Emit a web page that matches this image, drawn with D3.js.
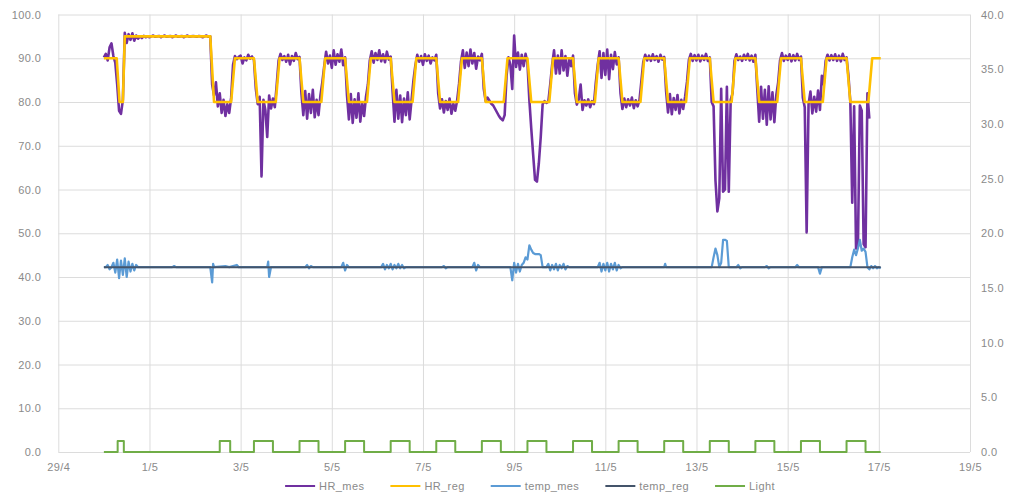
<!DOCTYPE html>
<html>
<head>
<meta charset="utf-8">
<script src="https://cdn.jsdelivr.net/npm/d3@7"></script>
<style>
  html, body { margin: 0; padding: 0; background: #fff; }
  svg { display: block; font-family: "Liberation Sans", Arial, sans-serif; }
</style>
</head>
<body>
<div id="chart"></div>
<script>
/*global d3 */
var parseTime = d3.utcParse("%d/%m %H:%M");

// Legend / series names and colours
var seriesNames = ["HR_mes", "HR_reg", "temp_mes", "temp_reg", "Light"];
var seriesColors = ["#7030A0", "#FFC000", "#5B9BD5", "#44546A", "#70AD47"];

// Axis ticks
var dateTicks = ["29/04 00:00", "01/05 00:00", "03/05 00:00", "05/05 00:00", "07/05 00:00", "09/05 00:00",
                 "11/05 00:00", "13/05 00:00", "15/05 00:00", "17/05 00:00", "19/05 00:00"];
var leftTicks = [0, 10, 20, 30, 40, 50, 60, 70, 80, 90, 100];
var rightTicks = [0, 5, 10, 15, 20, 25, 30, 35, 40];

// HR_mes : hourly readings starting 30/04 00:00 (one line per day)
var hrMesStart = "30/04 00:00";
var hrMes = [
  90.2, 91, 89.5, 92.5, 93.4, 90.5, 89, 84, 78, 77.3, 80.5, 95.8, 93.5, 95.5, 94.2, 95.7, 94, 95.2, 94.5, 95, 94.6, 95.1, 94.8, 95,
  94.8, 95, 95.2, 94.9, 95, 95.1, 94.8, 95, 95.2, 94.9, 95, 95.1, 94.8, 95, 95.2, 94.9, 95, 95.1, 94.8, 95, 95.2, 94.9, 95, 95.1,
  95, 94.9, 95.1, 95, 94.8, 95, 95.2, 94.9, 95, 84, 81.5, 84.5, 79, 82, 77.5, 80.5, 76.8, 79.5, 77.5, 81, 88.5, 90.5, 89.8, 90.3,
  90.6, 88.8, 90.2, 89.5, 90.8, 89.9, 90.4, 89.6, 83, 79.5, 81.2, 63, 80.5, 78.2, 72, 81.5, 78.5, 80.8, 78.8, 84, 89.5, 91, 89.6, 90.5,
  89.2, 90.8, 88.6, 90.5, 89.4, 91.2, 89.8, 90.3, 82, 77, 82.5, 76.2, 81.8, 77.5, 82.8, 76.5, 80.5, 77, 81.5, 84.5, 88.2, 91.5, 88.8, 90.6,
  87.8, 91.8, 88.5, 90.9, 89.2, 92, 88.4, 90.2, 81.5, 76, 81.8, 75.2, 80.6, 76.4, 82, 75.5, 79.8, 76.8, 81.2, 84, 89.5, 91.6, 89, 91.2,
  89.6, 91.8, 89.3, 90.9, 89.1, 91.5, 89.7, 90.4, 82.5, 75.5, 82.8, 76.2, 81.5, 75.4, 80.8, 77, 82.2, 76, 80.5, 85, 88.4, 90.8, 89.2, 90.5,
  88.5, 90.9, 89.4, 90.6, 88.8, 90.2, 89.5, 90.8, 82, 78.5, 80.6, 77.6, 80.2, 78.2, 80.8, 77.3, 79.6, 78, 80.4, 84.2, 89.2, 91.8, 87.8, 91.3,
  88.2, 92, 88.8, 91.2, 87.6, 90.4, 89.5, 91, 83, 80.2, 81, 80.3, 79.6, 79.2, 78.4, 77.6, 76.8, 76.2, 75.8, 77, 86, 90.2, 88.5, 83,
  95.2, 88, 91.3, 87.4, 90.8, 88.2, 91, 89, 80.5, 74, 68, 62.2, 61.8, 66, 72, 79.5, 80.2, 79.8, 80.1, 84, 88.5, 91.8, 86.5, 90.6,
  86.5, 91.8, 87.2, 90.5, 86, 89.8, 88.2, 90.6, 82, 79.4, 80.6, 84, 78.2, 80.4, 79.2, 80.6, 78.8, 80.2, 79.5, 84.5, 88.5, 91.6, 85.5, 91.2,
  86.2, 92, 85.2, 90.8, 87.5, 91.4, 88.6, 90.2, 82, 78.4, 80.8, 78.8, 80.6, 79.2, 81, 78.6, 80.4, 79, 80.5, 84.8, 89.2, 90.8, 89.5, 90.6,
  89.4, 90.9, 89.6, 90.5, 89.2, 90.8, 89.7, 90.3, 82.5, 77.6, 81.8, 77.2, 80.9, 78.2, 81.6, 77.4, 80.5, 78.4, 81.2, 84.6, 89.6, 91, 89.4, 90.7,
  89.5, 90.8, 89.3, 90.6, 89.6, 91, 89.4, 90.2, 80, 79, 62, 55, 58, 83, 59.5, 60, 83.5, 59.5, 80.5, 82, 89.4, 90.9, 89.6, 90.4,
  89.4, 90.8, 89.7, 91, 89.5, 90.6, 89.2, 90.8, 83, 75.5, 83.5, 76.2, 82.8, 74.8, 83.6, 76, 82.2, 75.4, 81.5, 84.5, 89.5, 91.2, 89.4, 90.6,
  89.6, 90.9, 89.3, 90.7, 89.5, 91, 89.6, 90.4, 81, 78.8, 50.2, 79.5, 82.4, 77.4, 81.2, 77.8, 82.6, 78.2, 86, 84, 89.4, 90.8, 89.5, 90.7,
  89.6, 90.9, 89.4, 90.6, 89.3, 91, 89.6, 90.2, 86, 80, 57, 79, 46.5, 47, 79.2, 78, 47.5, 46.8, 82, 76.2
];

// HR_reg : set point breakpoints
var hrReg = [
  ["30/04 00:00", 90], ["30/04 06:45", 90], ["30/04 08:15", 80], ["30/04 10:00", 80], ["30/04 11:00", 95],
  ["02/05 08:00", 95], ["02/05 10:00", 80], ["02/05 19:00", 80], ["02/05 21:00", 90],
  ["03/05 07:00", 90], ["03/05 09:00", 80], ["03/05 18:30", 80], ["03/05 20:30", 90],
  ["04/05 07:00", 90], ["04/05 09:00", 80], ["04/05 18:30", 80], ["04/05 20:30", 90],
  ["05/05 07:00", 90], ["05/05 09:00", 80], ["05/05 18:30", 80], ["05/05 20:30", 90],
  ["06/05 07:00", 90], ["06/05 09:00", 80], ["06/05 18:30", 80], ["06/05 20:30", 90],
  ["07/05 07:00", 90], ["07/05 09:00", 80], ["07/05 18:30", 80], ["07/05 20:30", 90],
  ["08/05 07:00", 90], ["08/05 09:00", 80], ["08/05 18:30", 80], ["08/05 20:30", 90],
  ["09/05 07:00", 90], ["09/05 09:00", 80], ["09/05 18:30", 80], ["09/05 20:30", 90],
  ["10/05 07:00", 90], ["10/05 09:00", 80], ["10/05 18:30", 80], ["10/05 20:30", 90],
  ["11/05 07:00", 90], ["11/05 09:00", 80], ["11/05 18:30", 80], ["11/05 20:30", 90],
  ["12/05 07:00", 90], ["12/05 09:00", 80], ["12/05 18:30", 80], ["12/05 20:30", 90],
  ["13/05 07:00", 90], ["13/05 09:00", 80], ["13/05 18:30", 80], ["13/05 20:30", 90],
  ["14/05 07:00", 90], ["14/05 09:00", 80], ["14/05 18:30", 80], ["14/05 20:30", 90],
  ["15/05 07:00", 90], ["15/05 09:00", 80], ["15/05 18:30", 80], ["15/05 20:30", 90],
  ["16/05 07:00", 90], ["16/05 09:00", 80], ["16/05 18:30", 80], ["16/05 20:30", 90],
  ["17/05 01:00", 90]
];

// temp_mes : readings (right axis, °C)
var tempMes = [
  ["30/04 00:00", 16.9], ["30/04 01:00", 16.9], ["30/04 02:00", 17.1], ["30/04 03:00", 16.7], ["30/04 04:00", 16.9],
  ["30/04 05:00", 17.3], ["30/04 06:00", 16.4], ["30/04 07:00", 17.6], ["30/04 08:00", 15.9], ["30/04 09:00", 17.5],
  ["30/04 10:00", 16.2], ["30/04 11:00", 17.7], ["30/04 12:00", 16.0], ["30/04 13:00", 17.4], ["30/04 14:00", 16.5],
  ["30/04 15:00", 17.2], ["30/04 16:00", 16.6], ["30/04 17:00", 17.1], ["30/04 18:00", 16.9],
  ["01/05 12:00", 16.9], ["01/05 13:00", 17.0], ["01/05 14:00", 16.9],
  ["02/05 08:00", 16.9], ["02/05 09:00", 15.5], ["02/05 09:30", 17.2], ["02/05 10:00", 16.9],
  ["02/05 16:00", 17.0], ["02/05 18:00", 16.9], ["02/05 22:00", 17.1], ["02/05 23:00", 16.9],
  ["03/05 14:00", 16.9], ["03/05 14:30", 17.4], ["03/05 15:00", 16.0], ["03/05 16:00", 16.9],
  ["04/05 10:00", 16.9], ["04/05 11:00", 17.1], ["04/05 12:00", 16.8], ["04/05 13:00", 17.0], ["04/05 14:00", 16.9],
  ["05/05 05:00", 16.9], ["05/05 06:00", 17.3], ["05/05 07:00", 16.6], ["05/05 08:00", 17.1], ["05/05 09:00", 16.9],
  ["06/05 02:00", 16.9], ["06/05 03:00", 17.2], ["06/05 04:00", 16.7], ["06/05 05:00", 17.1], ["06/05 06:00", 16.8],
  ["06/05 07:00", 17.2], ["06/05 08:00", 16.7], ["06/05 09:00", 17.1], ["06/05 10:00", 16.8], ["06/05 11:00", 17.2],
  ["06/05 12:00", 16.8], ["06/05 13:00", 17.1], ["06/05 14:00", 16.8], ["06/05 15:00", 16.9],
  ["07/05 10:00", 16.9], ["07/05 11:00", 17.0], ["07/05 12:00", 16.8], ["07/05 13:00", 16.9],
  ["08/05 02:00", 16.9], ["08/05 03:00", 17.3], ["08/05 04:00", 16.6], ["08/05 05:00", 17.1], ["08/05 06:00", 16.9],
  ["08/05 22:00", 16.9], ["08/05 23:00", 15.7], ["09/05 00:00", 17.3], ["09/05 01:00", 16.4], ["09/05 02:00", 17.2],
  ["09/05 03:00", 16.5], ["09/05 04:00", 17.1], ["09/05 05:00", 17.3], ["09/05 06:00", 17.8], ["09/05 07:00", 17.6],
  ["09/05 08:00", 18.9], ["09/05 09:00", 18.5], ["09/05 10:00", 18.2], ["09/05 11:00", 18.1], ["09/05 12:00", 18.1],
  ["09/05 13:00", 18.1], ["09/05 14:00", 18.0], ["09/05 15:00", 16.9],
  ["09/05 17:00", 16.9], ["09/05 18:00", 17.2], ["09/05 19:00", 16.6], ["09/05 20:00", 17.1], ["09/05 21:00", 16.7],
  ["09/05 22:00", 17.2], ["09/05 23:00", 16.6], ["10/05 00:00", 17.1], ["10/05 01:00", 16.8], ["10/05 02:00", 17.2],
  ["10/05 03:00", 16.7], ["10/05 04:00", 17.0], ["10/05 05:00", 16.9],
  ["10/05 20:00", 16.9], ["10/05 21:00", 17.3], ["10/05 22:00", 16.5], ["10/05 23:00", 17.2], ["11/05 00:00", 16.6],
  ["11/05 01:00", 17.3], ["11/05 02:00", 16.5], ["11/05 03:00", 17.2], ["11/05 04:00", 16.7], ["11/05 05:00", 17.3],
  ["11/05 06:00", 16.6], ["11/05 07:00", 17.1], ["11/05 08:00", 16.8], ["11/05 09:00", 16.9],
  ["12/05 07:00", 16.9], ["12/05 07:30", 17.2], ["12/05 08:00", 16.9],
  ["13/05 08:00", 16.9], ["13/05 09:00", 17.8], ["13/05 10:00", 18.6], ["13/05 11:00", 18.0], ["13/05 12:00", 16.9],
  ["13/05 13:00", 17.3], ["13/05 14:00", 19.4], ["13/05 15:00", 19.4], ["13/05 16:00", 19.3], ["13/05 17:00", 16.9],
  ["13/05 21:00", 16.9], ["13/05 22:00", 17.1], ["13/05 23:00", 16.8], ["14/05 00:00", 16.9],
  ["14/05 12:00", 16.9], ["14/05 13:00", 17.0], ["14/05 14:00", 16.8], ["14/05 15:00", 16.9],
  ["15/05 04:00", 16.9], ["15/05 05:00", 17.1], ["15/05 06:00", 16.9],
  ["15/05 16:00", 16.9], ["15/05 17:00", 16.3], ["15/05 18:00", 16.9],
  ["16/05 09:00", 16.9], ["16/05 10:00", 17.8], ["16/05 11:00", 18.5], ["16/05 12:00", 18.0], ["16/05 13:00", 18.6],
  ["16/05 14:00", 19.4], ["16/05 15:00", 18.4], ["16/05 16:00", 18.6], ["16/05 17:00", 18.3], ["16/05 18:00", 16.9],
  ["16/05 19:00", 16.7], ["16/05 20:00", 17.0], ["16/05 21:00", 16.8], ["16/05 22:00", 17.0], ["16/05 23:00", 16.8],
  ["17/05 00:00", 16.9], ["17/05 01:00", 16.8]
];

// temp_reg : constant set point (right axis)
var tempReg = [["30/04 00:00", 16.9], ["17/05 01:00", 16.9]];

// Light : on / off times (right axis, level 1)
var lightStart = "30/04 00:00", lightEnd = "17/05 01:00", lightLevel = 1;
var lightOn = ["30/04 07:15", "02/05 13:00", "03/05 07:00", "04/05 07:00", "05/05 07:00", "06/05 07:00",
               "07/05 07:00", "08/05 07:00", "09/05 07:00", "10/05 07:00", "11/05 07:00", "12/05 07:00",
               "13/05 07:00", "14/05 07:00", "15/05 07:00", "16/05 07:00"];
var lightOff = ["30/04 10:30", "02/05 18:30", "03/05 17:00", "04/05 17:00", "05/05 17:00", "06/05 17:00",
                "07/05 17:00", "08/05 17:00", "09/05 17:00", "10/05 17:00", "11/05 17:00", "12/05 17:00",
                "13/05 17:00", "14/05 17:00", "15/05 17:00", "16/05 17:00"];

function createChart(container) {
    "use strict";

    var width = 1018,
        height = 494,
        plot = {left: 58.3, right: 970, top: 14.5, bottom: 452},
        labelColor = "#8a8a8a",
        gridColor = "#dcdcdc",

        svg = container.append("svg")
            .attr("width", width)
            .attr("height", height),

        x = d3.scaleUtc()
            .domain([parseTime(dateTicks[0]), parseTime(dateTicks[dateTicks.length - 1])])
            .range([plot.left, plot.right]),
        yLeft = d3.scaleLinear().domain([0, 100]).range([plot.bottom, plot.top]),
        yRight = d3.scaleLinear().domain([0, 40]).range([plot.bottom, plot.top]);

    // Grid lines
    svg.append("g")
        .attr("transform", "translate(" + plot.left + ",0)")
        .call(d3.axisLeft(yLeft).tickValues(leftTicks).tickSize(-(plot.right - plot.left)).tickFormat(""))
        .call(function (g) { g.select(".domain").remove(); })
        .selectAll("line").attr("stroke", gridColor);

    svg.append("g")
        .attr("transform", "translate(0," + plot.bottom + ")")
        .call(d3.axisBottom(x).tickValues(dateTicks.map(parseTime)).tickSize(-(plot.bottom - plot.top)).tickFormat(""))
        .call(function (g) { g.select(".domain").remove(); })
        .selectAll("line").attr("stroke", gridColor);

    // Tick labels
    var left = svg.append("g")
        .attr("transform", "translate(" + plot.left + ",0)")
        .call(d3.axisLeft(yLeft).tickValues(leftTicks).tickSize(0).tickPadding(17).tickFormat(d3.format(".1f")));
    var right = svg.append("g")
        .attr("transform", "translate(" + plot.right + ",0)")
        .call(d3.axisRight(yRight).tickValues(rightTicks).tickSize(0).tickPadding(11).tickFormat(d3.format(".1f")));
    var bottom = svg.append("g")
        .attr("transform", "translate(0," + plot.bottom + ")")
        .call(d3.axisBottom(x).tickValues(dateTicks.map(parseTime)).tickSize(0).tickPadding(11)
            .tickFormat(d3.utcFormat("%-d/%-m")));

    [left, right, bottom].forEach(function (g) {
        g.select(".domain").remove();
        g.selectAll("text")
            .attr("fill", labelColor)
            .style("font-size", "11px")
            .style("letter-spacing", "0.4px");
    });

    // Series
    var lineLeft = d3.line()
            .x(function (d) { return x(d[0]); })
            .y(function (d) { return yLeft(d[1]); }),
        lineRight = d3.line()
            .x(function (d) { return x(d[0]); })
            .y(function (d) { return yRight(d[1]); });

    var t0 = parseTime(hrMesStart),
        hrMesData = hrMes.map(function (v, i) { return [d3.utcHour.offset(t0, i), v]; }),
        hrRegData = hrReg.map(function (d) { return [parseTime(d[0]), d[1]]; }),
        tempMesData = tempMes.map(function (d) { return [parseTime(d[0]), d[1]]; }),
        tempRegData = tempReg.map(function (d) { return [parseTime(d[0]), d[1]]; }),
        lightData = [[parseTime(lightStart), 0]];

    lightOn.forEach(function (on, i) {
        lightData.push([parseTime(on), 0], [parseTime(on), lightLevel],
            [parseTime(lightOff[i]), lightLevel], [parseTime(lightOff[i]), 0]);
    });
    lightData.push([parseTime(lightEnd), 0]);

    var series = [
        {data: hrMesData, line: lineLeft, width: 2.6},
        {data: hrRegData, line: lineLeft, width: 2.6},
        {data: tempMesData, line: lineRight, width: 2.2},
        {data: tempRegData, line: lineRight, width: 2},
        {data: lightData, line: lineRight, width: 2}
    ];

    series.forEach(function (s, i) {
        svg.append("path")
            .datum(s.data)
            .attr("fill", "none")
            .attr("stroke", seriesColors[i])
            .attr("stroke-width", s.width)
            .attr("stroke-linejoin", "round")
            .attr("d", s.line);
    });

    // Legend
    var legend = svg.append("g").attr("transform", "translate(0,486)"),
        items = legend.selectAll("g")
            .data(seriesNames)
            .enter().append("g");

    items.append("line")
        .attr("x1", 0).attr("x2", 30)
        .attr("stroke", function (d, i) { return seriesColors[i]; })
        .attr("stroke-width", 2);
    items.append("text")
        .attr("x", 34)
        .attr("dy", "0.35em")
        .attr("fill", labelColor)
        .style("font-size", "11px")
        .style("letter-spacing", "0.4px")
        .text(function (d) { return d; });

    var widths = [], total = 0, gap = 26;
    items.each(function () {
        var w = this.getBBox().width;
        widths.push(w);
        total += w;
    });
    total += gap * (seriesNames.length - 1);
    var pos = 530 - total / 2;
    items.attr("transform", function (d, i) {
        var p = pos;
        pos += widths[i] + gap;
        return "translate(" + p + ",0)";
    });
}

createChart(d3.select("#chart"));
</script>
</body>
</html>
